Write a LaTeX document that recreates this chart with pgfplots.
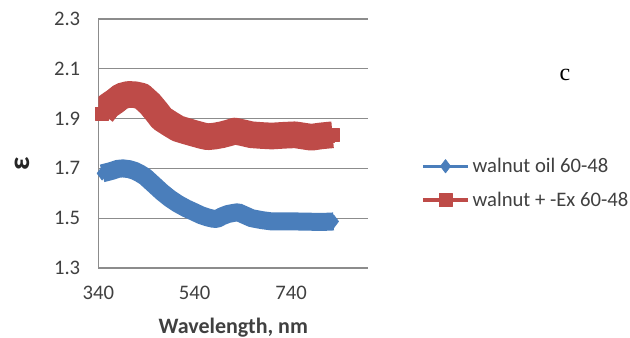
\documentclass[border=0pt]{standalone}
\usepackage{pgfplots}
\pgfplotsset{compat=1.18}
\usepackage{fontspec}
\setmainfont{Carlito}
\newfontfamily\seriffont{Liberation Serif}
\definecolor{xlblue}{HTML}{4A7EBB}
\definecolor{xlred}{HTML}{BE4B48}
\definecolor{gridgray}{HTML}{8C8C8C}
\definecolor{txtgray}{HTML}{404040}
\begin{document}
\begin{tikzpicture}
\path[use as bounding box] (0,0) rectangle (472.5pt,253.5pt);
\begin{axis}[
  at={(73.7pt,52.5pt)}, anchor=south west,
  scale only axis, width=202.5pt, height=186.75pt,
  xmin=340, xmax=900, ymin=1.3, ymax=2.3,
  xtick={340,540,740}, ytick={1.3,1.5,1.7,1.9,2.1,2.3},
  yticklabel style={/pgf/number format/fixed,/pgf/number format/fixed zerofill,/pgf/number format/precision=1},
  /pgf/number format/assume math mode=true,
  major tick length=0pt,
  axis x line*=bottom, axis y line*=left,
  axis line style={gridgray, line width=0.8pt, -},
  ymajorgrids, grid style={gridgray, line width=0.8pt},
  tick label style={font=\fontsize{15.5}{18}\selectfont, text=txtgray},
  xticklabel style={yshift=-10pt},
  yticklabel style={xshift=-10pt},
  xlabel={\textbf{Wavelength, nm}},
  xlabel style={font=\fontsize{16.5}{19}\selectfont, text=txtgray, yshift=-7pt},
  legend style={at={(1.18,0.341)}, anchor=west, draw=none, fill=none,
    font=\fontsize{15.5}{18}\selectfont, text=txtgray, row sep=9pt},
  legend cell align=left,
  legend image code/.code={\draw[#1, line width=2.6pt, mark repeat=2, mark phase=2]
     plot coordinates {(0pt,0pt)(17pt,0pt)(34pt,0pt)};},
]
\addplot[color=xlblue, line width=13.5pt, line join=round, mark=diamond*, mark size=5pt,
  mark options={line width=0.5pt}] coordinates {
(348,1.68)(358,1.685)(368,1.69)(380,1.698)(391,1.70)(404,1.697)(416,1.69)(426,1.68)
(437,1.667)(454,1.637)(472,1.605)(488,1.58)(505,1.558)(522,1.54)(540,1.524)
(553,1.512)(567,1.503)(578,1.498)(586,1.497)(597,1.508)(609,1.517)(620,1.521)
(630,1.524)(644,1.512)(658,1.50)(680,1.492)(700,1.487)(725,1.487)(748,1.487)
(775,1.486)(803,1.485)(818,1.486)(828,1.487)};
\addlegendentry{walnut oil 60-48}
\addplot[color=xlred, line width=20pt, line join=round, mark=square*, mark size=5pt,
  mark options={line width=0.5pt}] coordinates {
(348,1.92)(360,1.95)(375,1.97)(388,1.99)(402,1.997)(416,1.996)(430,1.99)
(447,1.96)(460,1.93)(472,1.90)(488,1.88)(505,1.86)(522,1.85)(540,1.84)
(555,1.832)(567,1.827)(582,1.83)(596,1.835)(610,1.842)(623,1.85)(640,1.843)
(658,1.835)(680,1.832)(700,1.83)(725,1.833)(748,1.835)(765,1.83)(782,1.825)
(800,1.83)(815,1.833)(826,1.835)};
\addlegendentry{walnut + -Ex 60-48}
\end{axis}
\node[font=\fontsize{22}{24}\selectfont\bfseries, text=black!85, rotate=90] at (16.5pt,131pt) {ε};
\node[font=\seriffont\fontsize{18}{20}\selectfont, text=black] at (423.75pt,197.25pt) {c};
\end{tikzpicture}
\end{document}
